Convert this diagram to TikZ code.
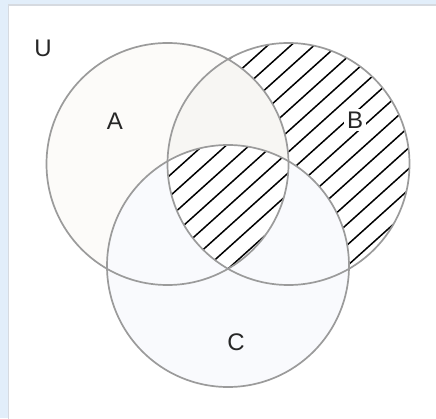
\documentclass[tikz,border=0pt]{standalone}
\usepackage{fontspec}
\setmainfont{Liberation Sans}
\definecolor{bgblue}{RGB}{226,238,250}
\definecolor{panelborder}{RGB}{214,218,224}
\definecolor{ringgray}{RGB}{155,155,155}
\definecolor{afill}{RGB}{252,251,249}
\definecolor{cfill}{RGB}{249,250,253}
\definecolor{abfill}{RGB}{247,246,243}
\tikzset{
  ring/.style={draw=ringgray, line width=1.7pt},
  hatchline/.style={black, line width=1.5pt},
  setlabel/.style={font=\fontsize{24}{28}\selectfont, text=black!85, inner sep=2pt},
}
\begin{document}
\begin{tikzpicture}[x=1pt,y=1pt]
  % background and panel
  \fill[bgblue] (0,0) rectangle (436,418);
  \useasboundingbox (0,0) rectangle (436,418);
  \fill[white, draw=panelborder, line width=1.2pt] (8.5,-5) rectangle (445,413);
  % circle centres (image y flipped)
  \coordinate (cA) at (167.5,254);
  \coordinate (cB) at (288.5,254);
  \coordinate (cC) at (228,152);
  \def\R{121}
  % fills
  \fill[afill] (cA) circle (\R);
  \fill[cfill] (cC) circle (\R);
  \begin{scope}
    \clip (cA) circle (\R);
    \clip (cB) circle (\R);
    \fill[abfill] (cB) circle (\R);
    \fill[cfill] (cC) circle (\R);
  \end{scope}
  % hatching: B and not (A xor C)
  \begin{scope}
    \clip (cB) circle (\R);
    \begin{scope}[even odd rule]
      \clip (0,0) rectangle (436,418) (cA) circle (\R) (cC) circle (\R);
      \fill[white] (0,0) rectangle (436,418);
      \begin{scope}[shift={(229,150)}, rotate=42]
        \foreach \k in {-20,...,20} {
          \draw[hatchline] (-400,\k*15.5) -- (400,\k*15.5);
        }
      \end{scope}
    \end{scope}
  \end{scope}
  % outlines
  \draw[ring] (cA) circle (\R);
  \draw[ring] (cB) circle (\R);
  \draw[ring] (cC) circle (\R);
  % labels
  \node[setlabel] (U) at (43,370) {U};
  \node[setlabel] (A) at (115,297) {A};
  \node[setlabel, fill=white, inner sep=3pt] (B) at (355,298) {B};
  \node[setlabel] (C) at (236,76) {C};
\end{tikzpicture}
\end{document}
